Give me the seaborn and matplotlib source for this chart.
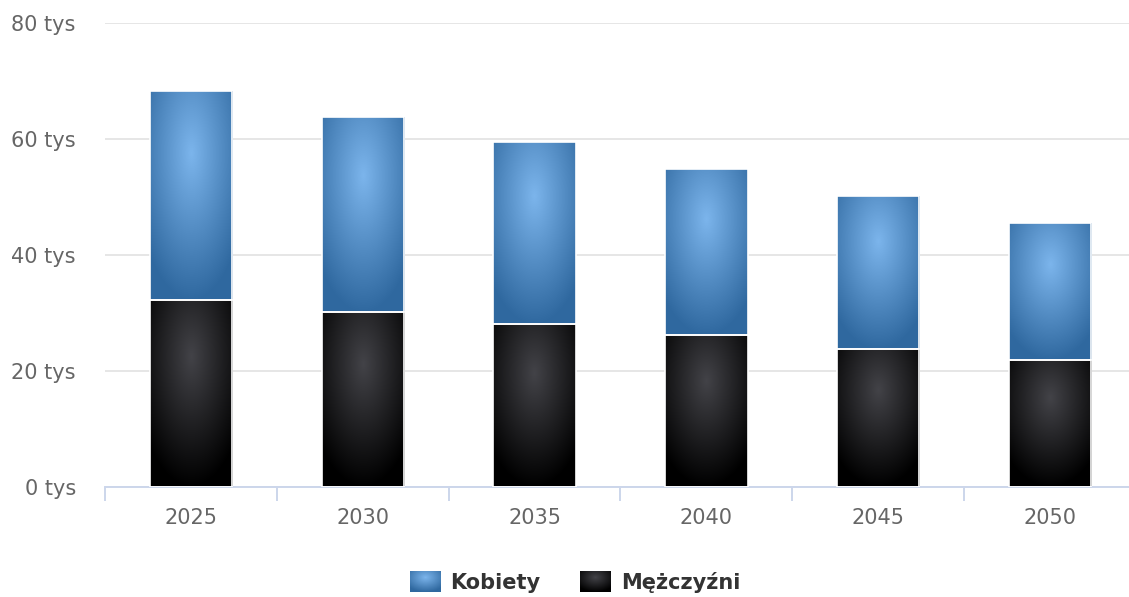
import numpy as np
import pandas as pd
import matplotlib
matplotlib.use("Agg")
import matplotlib.pyplot as plt
import seaborn as sns
from matplotlib.colors import to_rgb
from matplotlib.patches import Patch, Rectangle
from matplotlib.legend_handler import HandlerPatch
from matplotlib.image import BboxImage
from matplotlib.transforms import Bbox, TransformedBbox

# ---- data ----
years = ["2025", "2030", "2035", "2040", "2045", "2050"]
kobiety = [36.1, 33.6, 31.4, 28.6, 26.4, 23.6]
mezczyzni = [32.2, 30.2, 28.1, 26.2, 23.8, 21.9]
y_ticks = [0, 20, 40, 60, 80]
y_labels = ["0 tys", "20 tys", "40 tys", "60 tys", "80 tys"]
series_names = ["Kobiety", "Mężczyźni"]
series_colors = ["#7cb5ec", "#434348"]

sns.set_theme(style="white")
plt.rcParams["font.family"] = ["DejaVu Sans"]

W, H = 1129, 597
fig = plt.figure(figsize=(W / 100, H / 100), dpi=100)
ax = fig.add_axes([105 / W, 110 / H, 1031 / W, 464 / H])

df = pd.DataFrame({"rok": years, "Kobiety": kobiety, "Mężczyźni": mezczyzni})

sns.barplot(data=df, x="rok", y="Mężczyźni", color=series_colors[1], width=0.48,
            saturation=1, edgecolor="white", linewidth=1.2, ax=ax, errorbar=None)
n_men = len(ax.patches)
sns.barplot(data=df, x="rok", y="Kobiety", color=series_colors[0], width=0.48,
            saturation=1, edgecolor="white", linewidth=1.2, ax=ax, errorbar=None)
men_patches = list(ax.patches[:n_men])
women_patches = list(ax.patches[n_men:])
for p, base in zip(women_patches, mezczyzni):
    p.set_y(base)


def gradient(color, n=200):
    c0 = np.array(to_rgb(color))
    c1 = np.clip(c0 - 0.3, 0, 1)
    u = np.linspace(0, 1, n)[None, :]
    v = np.linspace(0, 1, n)[:, None]
    t = np.clip(np.sqrt((u - 0.5) ** 2 + (v - 0.3) ** 2) / 0.7, 0, 1)
    return c0 * (1 - t[..., None]) + c1 * t[..., None]


for patches, col in ((men_patches, series_colors[1]), (women_patches, series_colors[0])):
    img = gradient(col)
    for p in patches:
        x0, w = p.get_x(), p.get_width()
        y0, h = p.get_y(), p.get_height()
        im = ax.imshow(img, extent=(x0, x0 + w, y0, y0 + h), aspect="auto",
                       origin="upper", interpolation="bilinear", zorder=2)
        im.set_clip_path(p)
        p.set_facecolor("none")
        p.set_zorder(3)

ax.set_aspect("auto")
ax.set_xlim(-0.5, len(years) - 0.5)
ax.set_ylim(0, 80)

ax.set_yticks(y_ticks)
ax.set_yticklabels(y_labels)
ax.set_xlabel("")
ax.set_ylabel("")
ax.yaxis.grid(True, color="#e6e6e6", linewidth=1.4)
ax.xaxis.grid(False)
ax.set_axisbelow(True)

for s in ("left", "right", "top"):
    ax.spines[s].set_visible(False)
ax.spines["bottom"].set_color("#ccd6eb")
ax.spines["bottom"].set_linewidth(1.4)

ax.set_xticks(np.arange(-0.5, len(years) + 0.5, 1), minor=True)
ax.tick_params(axis="y", length=0, pad=21, labelsize=15, labelcolor="#666666")
ax.tick_params(axis="x", which="major", length=0, pad=15, labelsize=15,
               labelcolor="#666666")
ax.tick_params(axis="x", which="minor", bottom=True, length=10, width=1.4,
               color="#ccd6eb", direction="out")


class GradientHandler(HandlerPatch):
    def create_artists(self, legend, orig_handle, xdescent, ydescent,
                       width, height, fontsize, trans):
        x0, y0 = -xdescent, -ydescent
        bbox = TransformedBbox(Bbox([[x0, y0], [x0 + width, y0 + height]]), trans)
        bim = BboxImage(bbox, interpolation="bilinear", origin="upper")
        bim.set_data(gradient(orig_handle.get_facecolor()[:3]))
        return [bim]


handles = [Patch(facecolor=series_colors[0], edgecolor="none"),
           Patch(facecolor=series_colors[1], edgecolor="none")]
fig.legend(handles, series_names, loc="center", bbox_to_anchor=(575 / W, 1 - 582 / H),
           ncol=2, frameon=False, prop={"weight": "bold", "size": 15},
           handlelength=1.45, handleheight=1.15, handletextpad=0.5,
           columnspacing=1.9, labelcolor="#333333",
           handler_map={Patch: GradientHandler()})

fig.savefig("out.png", dpi=100)
